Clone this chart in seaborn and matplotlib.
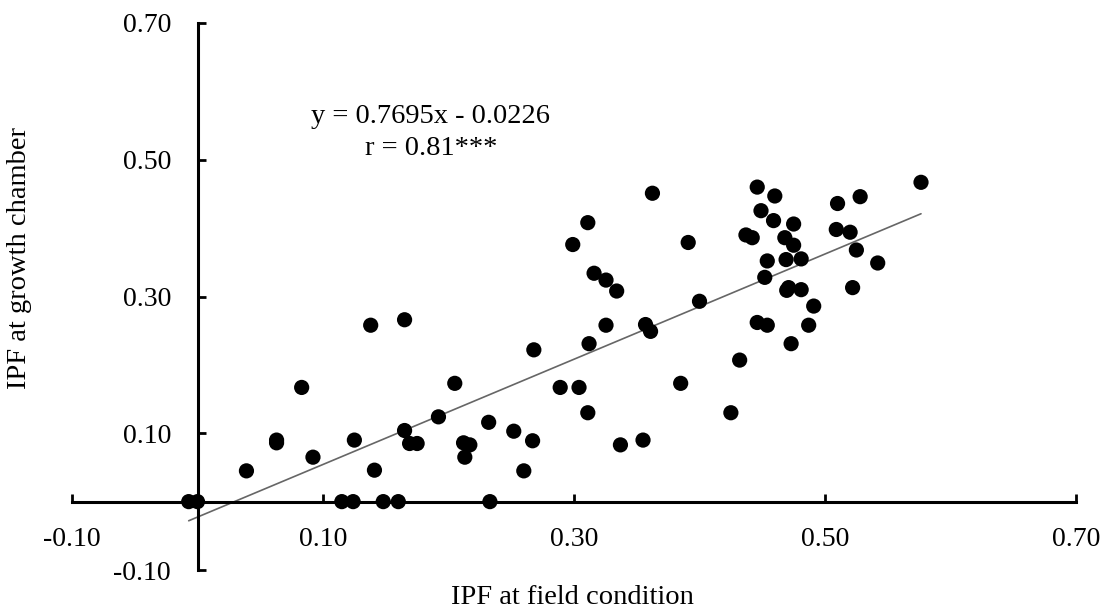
import matplotlib
matplotlib.use("Agg")
import matplotlib.pyplot as plt
import seaborn as sns
import pandas as pd
import numpy as np

# ---- data ----
ipf_field = [
    -0.007, 0.000, 0.039, 0.063, 0.063, 0.083, 0.092, 0.115, 0.124, 0.125,
    0.138, 0.141, 0.148, 0.160, 0.165, 0.165, 0.169, 0.175, 0.192, 0.205,
    0.212, 0.217, 0.213, 0.232, 0.233, 0.252, 0.260, 0.267, 0.268, 0.289,
    0.304, 0.299, 0.311, 0.311, 0.312, 0.316, 0.3255, 0.3255, 0.334, 0.337,
    0.355, 0.357, 0.361, 0.3625, 0.385, 0.391, 0.400, 0.425, 0.432, 0.437,
    0.442, 0.446, 0.446, 0.449, 0.452, 0.454, 0.454, 0.460, 0.459, 0.468,
    0.469, 0.4695, 0.471, 0.473, 0.475, 0.475, 0.481, 0.481, 0.487, 0.491,
    0.509, 0.510, 0.520, 0.522, 0.525, 0.528, 0.542, 0.5765,
]
ipf_chamber = [
    0.000, 0.000, 0.045, 0.090, 0.086, 0.167, 0.065, 0.000, 0.000, 0.090,
    0.258, 0.046, 0.000, 0.000, 0.266, 0.104, 0.085, 0.085, 0.124, 0.173,
    0.086, 0.083, 0.065, 0.116, 0.000, 0.103, 0.045, 0.089, 0.222, 0.167,
    0.167, 0.376, 0.408, 0.130, 0.231, 0.334, 0.324, 0.258, 0.308, 0.083,
    0.090, 0.259, 0.249, 0.451, 0.173, 0.379, 0.293, 0.130, 0.207, 0.390,
    0.386, 0.460, 0.262, 0.4255, 0.328, 0.352, 0.258, 0.447, 0.411, 0.386,
    0.354, 0.309, 0.313, 0.231, 0.406, 0.375, 0.355, 0.310, 0.258, 0.286,
    0.398, 0.436, 0.394, 0.313, 0.368, 0.446, 0.349, 0.467,
]
slope = 0.7695
intercept = -0.0226
r_value = "0.81***"
tick_values = [-0.10, 0.10, 0.30, 0.50, 0.70]
x_title = "IPF at field condition"
y_title = "IPF at growth chamber"

df = pd.DataFrame({"field": ipf_field, "chamber": ipf_chamber})
x_line = np.array([df["field"].min(), df["field"].max()])
line_df = pd.DataFrame({"field": x_line, "chamber": slope * x_line + intercept})

# ---- style ----
sns.set_style("white")
plt.rcParams["font.family"] = ["Liberation Serif", "DejaVu Serif"]
plt.rcParams["font.size"] = 20
plt.rcParams["text.color"] = "black"
plt.rcParams["axes.labelcolor"] = "black"
plt.rcParams["xtick.color"] = "black"
plt.rcParams["ytick.color"] = "black"

W, H = 1111, 608
fig = plt.figure(figsize=(W / 100, H / 100), dpi=100)
ax = fig.add_axes([72 / W, (H - 570) / H, (1076 - 72) / W, (570 - 23) / H])

sns.lineplot(data=line_df, x="field", y="chamber", ax=ax, color="#666666",
             linewidth=1.2, zorder=2)
sns.scatterplot(data=df, x="field", y="chamber", ax=ax, color="black",
                s=120, edgecolor="none", linewidth=0, zorder=3, clip_on=False)

ax.set_xlim(-0.10, 0.70)
ax.set_ylim(-0.10, 0.70)
ax.set_xticks(tick_values)
ax.set_yticks(tick_values)
ax.set_xticklabels([f"{v:.2f}" for v in tick_values])
ax.set_yticklabels([f"{v:.2f}" for v in tick_values])

for side in ["top", "right"]:
    ax.spines[side].set_visible(False)
for side in ["left", "bottom"]:
    ax.spines[side].set_position(("data", 0))
    ax.spines[side].set_linewidth(2.2)
    ax.spines[side].set_color("black")
    ax.spines[side].set_capstyle("projecting")

ax.tick_params(axis="both", which="major", bottom=True, left=True,
               top=False, right=False, direction="in", length=5.5,
               width=2.0, color="black", labelcolor="black",
               labelsize=20, pad=18)
ax.tick_params(axis="y", pad=19)

ax.text(0.186, 0.5536, f"y = {slope}x - {abs(intercept)}", ha="center",
        va="baseline", fontsize=20.5, color="black")
ax.text(0.186, 0.5073, f"r = {r_value}", ha="center", va="baseline",
        fontsize=20.5, color="black")

ax.set_xlabel(x_title, fontsize=20.5, color="black")
ax.set_ylabel(y_title, fontsize=20.5, color="black")
ax.xaxis.set_label_coords(572 / W, 4 / H, transform=fig.transFigure)
ax.xaxis.label.set_verticalalignment("baseline")
ax.yaxis.set_label_coords(20 / W, 1 - 258 / H, transform=fig.transFigure)
ax.yaxis.label.set_verticalalignment("center")
ax.yaxis.label.set_horizontalalignment("center")

fig.savefig("out.png", dpi=100)
